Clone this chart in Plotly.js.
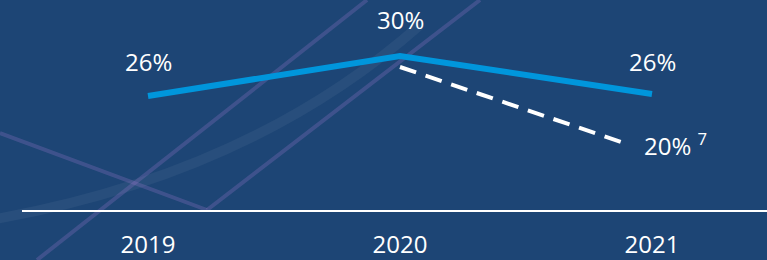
<!DOCTYPE html>
<html>
<head>
<meta charset="utf-8">
<script src="https://cdn.plot.ly/plotly-3.0.1.min.js"></script>
<style>
html,body{margin:0;padding:0;background:#1d4575;}
#chart{width:767px;height:260px;}
</style>
</head>
<body>
<div id="chart"></div>
<script>
// Data
const years = [2019, 2020, 2021];
const actual = [26, 30, 26.2];
const actualLabels = ['26%', '30%', '26%'];
const targetX = [2020, 2020.89];
const targetY = [28.9, 21.3];
const targetLabel = '20% <sup>7</sup>';

// Layout geometry
const W = 767, H = 260, mL = 22, mR = 0, mT = 0, mB = 50;
const pw = W - mL - mR, ph = H - mT - mB;
const px = X => (X - mL) / pw;
const py = Y => (H - mB - Y) / ph;

const decoLine = 'rgba(150,120,200,0.28)';
function seg(x0, y0, x1, y1) {
  return {type: 'line', xref: 'paper', yref: 'paper', layer: 'below',
    x0: px(x0), y0: py(y0), x1: px(x1), y1: py(y1),
    line: {color: decoLine, width: 4}};
}
const bandPath = `M ${px(-10)} ${py(220)} Q ${px(250)} ${py(175)} ${px(420)} ${py(25)}`;
const shapes = [
  {type: 'path', xref: 'paper', yref: 'paper', layer: 'below', path: bandPath,
   line: {color: 'rgba(255,255,255,0.05)', width: 10}},
  seg(0, 133, 207, 210),
  seg(37, 260, 367, 0),
  seg(207, 210, 480, 0)
];

const traces = [
  {x: years, y: actual, type: 'scatter', mode: 'lines',
   line: {color: '#0096dc', width: 6}, hoverinfo: 'skip'},
  {x: targetX, y: targetY, type: 'scatter', mode: 'lines',
   line: {color: '#ffffff', width: 4, dash: '17px,10px'}, hoverinfo: 'skip'}
];

const labelFont = {family: 'Open Sans, sans-serif', size: 24, color: '#ffffff'};
const shifts = [35, 37, 33];
const annotations = years.map((yr, i) => ({
  x: yr, y: actual[i], text: actualLabels[i], showarrow: false,
  xanchor: 'center', yanchor: 'middle', yshift: shifts[i], font: labelFont
}));
annotations.push({
  x: targetX[1], y: targetY[1], text: targetLabel, showarrow: false,
  xanchor: 'left', yanchor: 'middle', xshift: 18, yshift: -1, font: labelFont
});

const layout = {
  width: W, height: H,
  margin: {l: mL, r: mR, t: mT, b: mB, pad: 0},
  paper_bgcolor: '#1d4575', plot_bgcolor: 'rgba(0,0,0,0)',
  showlegend: false,
  xaxis: {range: [2018.5, 2018.5 + pw / 252], tickvals: years, ticktext: years.map(String),
    showgrid: false, zeroline: false, showline: true, linecolor: '#ffffff', linewidth: 2,
    ticks: '', ticklabelstandoff: 12, tickfont: {family: 'Open Sans, sans-serif', size: 24, color: '#ffffff'},
    fixedrange: true},
  yaxis: {range: [14.6, 35.6], visible: false, fixedrange: true},
  shapes: shapes,
  annotations: annotations
};

Plotly.newPlot('chart', traces, layout, {displayModeBar: false, staticPlot: true});
</script>
</body>
</html>
